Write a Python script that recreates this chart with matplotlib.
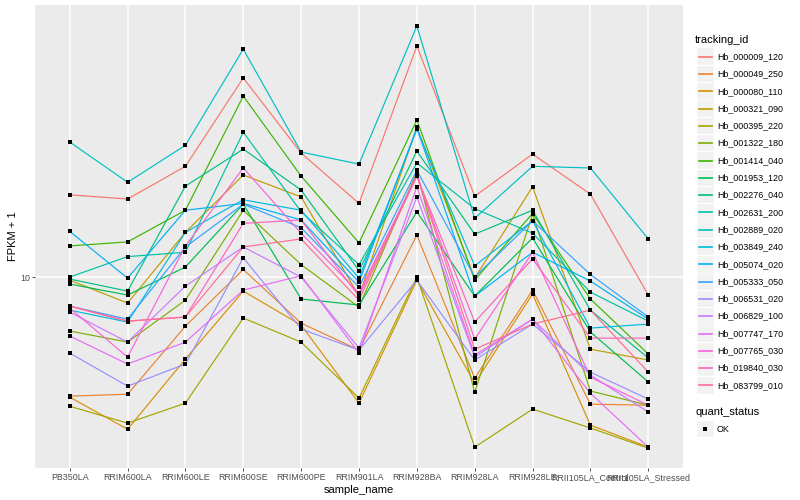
import matplotlib
matplotlib.use("Agg")
import matplotlib.pyplot as plt
from matplotlib.patches import Rectangle
from matplotlib.lines import Line2D
from matplotlib.ticker import NullLocator

plt.rcParams["font.family"] = ["Liberation Sans", "DejaVu Sans"]

# ── Data (FPKM + 1) ───────────────────────────────────────────────────────────
samples = ["PB350LA", "RRIM600LA", "RRIM600LE", "RRIM600SE", "RRIM600PE",
           "RRIM901LA", "RRIM928BA", "RRIM928LA", "RRIM928LE",
           "RRII105LA_Control", "RRII105LA_Stressed"]

tracking_ids = ["Hb_000009_120", "Hb_000049_250", "Hb_000080_110", "Hb_000321_090",
                "Hb_000395_220", "Hb_001322_180", "Hb_001414_040", "Hb_001953_120",
                "Hb_002276_040", "Hb_002631_200", "Hb_002889_020", "Hb_003849_240",
                "Hb_005074_020", "Hb_005333_050", "Hb_006531_020", "Hb_006829_100",
                "Hb_007747_170", "Hb_007765_030", "Hb_019840_030", "Hb_083799_010"]

fpkm = [
    [18.8, 18.2, 23.4, 46.1, 25.9, 17.6, 58.9, 18.6, 25.7, 18.9, 8.71],
    [4.01, 4.07, 6.86, 10.6, 7.02, 5.71, 13.8, 4.60, 9.05, 3.77, 3.74],
    [3.98, 3.11, 5.33, 8.98, 6.92, 3.80, 9.77, 4.43, 8.78, 3.21, 2.71],
    [9.77, 8.19, 14.1, 21.9, 18.5, 8.64, 31.6, 9.92, 20.0, 5.75, 5.29],
    [3.71, 3.26, 3.80, 7.30, 6.07, 3.95, 10.0, 2.71, 3.63, 3.14, 2.69],
    [6.61, 6.07, 8.38, 16.7, 11.0, 7.94, 22.4, 4.13, 16.2, 4.17, 3.74],
    [12.7, 13.1, 16.7, 40.1, 21.7, 13.0, 33.4, 9.77, 16.3, 8.45, 5.54],
    [9.48, 8.71, 10.8, 17.5, 8.45, 8.07, 16.5, 8.64, 13.5, 6.56, 4.47],
    [9.85, 8.98, 20.1, 26.7, 19.5, 10.5, 26.3, 13.9, 16.7, 7.76, 5.37],
    [10.0, 11.7, 12.1, 30.4, 16.5, 11.0, 24.0, 16.9, 14.0, 8.91, 7.13],
    [28.2, 20.7, 27.5, 57.5, 26.1, 23.8, 68.7, 15.7, 23.4, 23.1, 13.4],
    [7.76, 7.08, 14.1, 18.1, 16.7, 9.92, 31.1, 10.9, 15.4, 6.76, 6.97],
    [14.2, 9.92, 16.7, 17.6, 15.5, 9.62, 31.4, 8.64, 12.1, 9.70, 7.24],
    [8.00, 7.24, 12.6, 17.5, 14.6, 9.26, 22.7, 10.0, 15.4, 10.2, 7.36],
    [5.58, 4.33, 5.13, 11.6, 6.71, 5.71, 9.77, 5.29, 6.97, 4.82, 3.92],
    [7.64, 6.07, 9.33, 12.6, 10.0, 5.80, 18.5, 5.41, 7.24, 4.71, 3.55],
    [6.36, 5.13, 6.07, 9.05, 10.1, 5.58, 20.0, 5.50, 7.24, 4.10, 2.71],
    [7.88, 5.41, 12.7, 23.1, 14.0, 8.84, 21.9, 6.21, 12.1, 4.64, 3.74],
    [8.00, 7.13, 7.36, 15.1, 15.5, 8.64, 21.7, 7.08, 11.5, 6.26, 6.26],
    [8.00, 7.13, 7.36, 12.6, 13.4, 8.38, 21.7, 5.75, 6.97, 7.76, 4.82],
]

# ggplot2 default hue palette for 20 groups
colors = ["#F8766D", "#EA8331", "#D89000", "#C09B00", "#A3A500", "#7CAE00",
          "#39B600", "#00BB4E", "#00BF7D", "#00C1A3", "#00BFC4", "#00BAE0",
          "#00B0F6", "#35A2FF", "#9590FF", "#C77CFF", "#E76BF3", "#FA62DB",
          "#FF62BC", "#FF6C91"]

W, H = 800, 500
def fx(px):
    return px / W
def fy(py):
    return 1 - py / H

# ── Figure ────────────────────────────────────────────────────────────────────
fig = plt.figure(figsize=(8, 5), dpi=100)
ax = fig.add_axes([fx(35), fy(468), 648 / W, 463 / H])
ax.set_facecolor("#EBEBEB")

xs = list(range(len(samples)))
for vals, col in zip(fpkm, colors):
    ax.plot(xs, vals, color=col, lw=0.85, zorder=2)
for vals in fpkm:
    ax.plot(xs, vals, "s", color="black", ms=2.6, mew=0, zorder=3)

ax.set_yscale("log")
ax.set_ylim(2.31, 80.7)
ax.set_xlim(-0.6, len(samples) - 0.4)
ax.set_yticks([10])
ax.set_yticklabels(["10"])
ax.yaxis.set_minor_locator(NullLocator())
ax.set_xticks(xs)
ax.set_xticklabels(samples)

for s in ax.spines.values():
    s.set_visible(False)
ax.grid(True, color="white", lw=1.1)
ax.set_axisbelow(True)
ax.tick_params(length=2.2, width=0.6, color="#333333", pad=1.5,
               labelsize=6.4, labelcolor="#4D4D4D")

ax.set_xlabel("sample_name", fontsize=8, labelpad=2)
ax.set_ylabel("FPKM + 1", fontsize=8, labelpad=1)

# ── Legend (drawn by hand, ggplot style) ─────────────────────────────────────
fig.text(fx(695), fy(40), "tracking_id", fontsize=8, va="center", ha="left")
step = 17.3
for i, (name, col) in enumerate(zip(tracking_ids, colors)):
    yc = 56.7 + i * step
    fig.patches.append(Rectangle((fx(697), fy(yc + 8.3)), 16.6 / W, 16.6 / H,
                                 transform=fig.transFigure, facecolor="#F2F2F2",
                                 edgecolor="white", lw=0.3, zorder=1))
    fig.lines.append(Line2D([fx(699), fx(712)], [fy(yc), fy(yc)],
                            transform=fig.transFigure, color=col, lw=1.2,
                            zorder=5))
    fig.text(fx(717), fy(yc), name, fontsize=6.4, va="center", ha="left")

fig.text(fx(695), fy(412), "quant_status", fontsize=8, va="center", ha="left")
fig.patches.append(Rectangle((fx(697), fy(437.3)), 16.6 / W, 16.6 / H,
                             transform=fig.transFigure, facecolor="#F2F2F2",
                             edgecolor="white", lw=0.3, zorder=1))
fig.lines.append(Line2D([fx(705)], [fy(429)], transform=fig.transFigure,
                        marker="s", color="black", ms=2.6, mew=0, zorder=5))
fig.text(fx(717), fy(429), "OK", fontsize=6.4, va="center", ha="left")

fig.savefig("out.png", dpi=100)
